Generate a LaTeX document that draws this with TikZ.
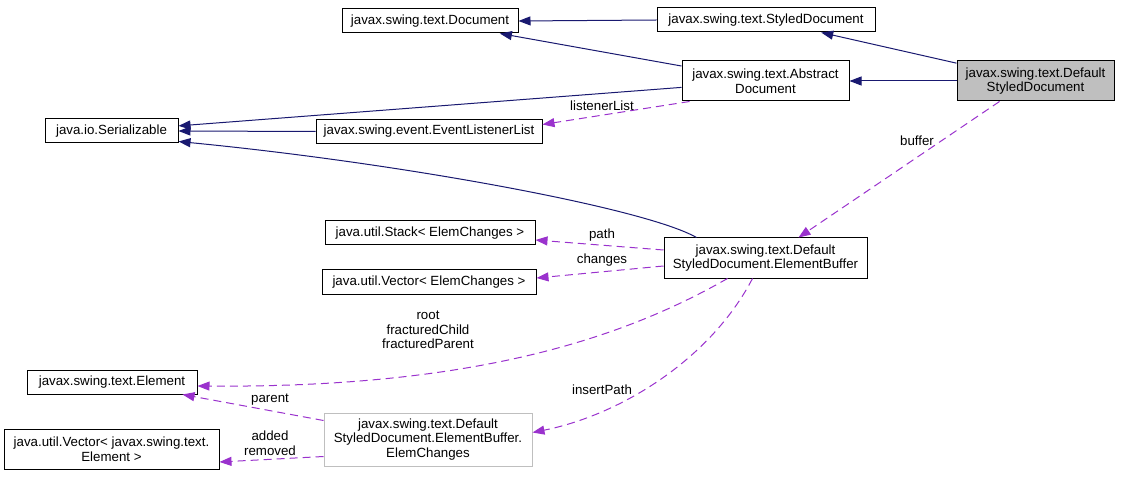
\documentclass[tikz,border=0pt]{standalone}
\usepackage{fontspec}
\setmainfont{Liberation Sans}
\usetikzlibrary{arrows.meta,calc}
\definecolor{navy}{HTML}{191970}
\definecolor{purp}{HTML}{9A32CD}
\definecolor{greyfill}{HTML}{BFBFBF}
\definecolor{greyline}{HTML}{BFBFBF}
\begin{document}
\begin{tikzpicture}[x=1pt,y=-1pt,font=\fontsize{13.3}{14.5}\selectfont,
  cls/.style={draw=black,line width=1pt,fill=white,align=center,inner sep=0pt},
  inh/.style={navy,line width=1pt,-{Triangle[length=12pt,width=9pt]}},
  use/.style={purp,line width=1pt,dash pattern=on 8pt off 5pt,-{Triangle[length=12pt,width=9pt]}},
  lbl/.style={align=center,inner sep=0pt}]
\useasboundingbox (0,0) rectangle (1121,486);
% classes
\node[cls,minimum width=176pt,minimum height=24pt] (doc) at (430,21) {javax.swing.text.Document};
\node[cls,minimum width=218pt,minimum height=24pt] (sdoc) at (766,20) {javax.swing.text.StyledDocument};
\node[cls,minimum width=167pt,minimum height=40pt] (adoc) at (765.5,81) {javax.swing.text.Abstract\\Document};
\node[cls,fill=greyfill,minimum width=157pt,minimum height=40pt] (dsd) at (1035.5,81) {javax.swing.text.Default\\StyledDocument};
\node[cls,minimum width=133pt,minimum height=24pt] (ser) at (111.5,131) {java.io.Serializable};
\node[cls,minimum width=226pt,minimum height=24pt] (ell) at (429,131.5) {javax.swing.event.EventListenerList};
\node[cls,minimum width=210pt,minimum height=24pt] (stack) at (430,233) {java.util.Stack< ElemChanges >};
\node[cls,minimum width=214pt,minimum height=25pt] (vec) at (429,282) {java.util.Vector< ElemChanges >};
\node[cls,minimum width=203pt,minimum height=40pt] (eb) at (765.5,258) {javax.swing.text.Default\\StyledDocument.ElementBuffer};
\node[cls,minimum width=170pt,minimum height=24pt] (elem) at (112,382) {javax.swing.text.Element};
\node[cls,draw=greyline,minimum width=208pt,minimum height=53pt] (ec) at (428,439.5) {javax.swing.text.Default\\StyledDocument.ElementBuffer.\\ElemChanges};
\node[cls,minimum width=215pt,minimum height=40pt] (vecel) at (111.5,449) {java.util.Vector< javax.swing.text.\\Element >};
% inheritance
\draw[inh] (sdoc.west) -- (doc.east);
\draw[inh] (adoc) -- (doc);
\draw[inh] (dsd) -- (sdoc);
\draw[inh] (dsd.west) -- (adoc.east);
\draw[inh] (adoc) -- (ser);
\draw[inh] (ell.west) -- (ser.east);
\draw[inh] ($(eb.north west)+(33,0)$) .. controls (645,208) and (400,163) .. ($(ser.south east)+(0,-2)$);
% usage
\draw[use] ($(adoc.south west)+(8,0)$) -- ($(ell.east)+(0,-7)$);
\draw[use] ($(dsd.south west)+(43,0)$) -- ($(eb.north)+(33,0)$);
\draw[use] ($(eb.west)+(0,-8)$) -- ($(stack.east)+(0,7)$);
\draw[use] ($(eb.west)+(0,8)$) -- ($(vec.east)+(0,-4)$);
\draw[use] ($(eb.south)+(-38,0)$) .. controls (620,340) and (470,388) .. ($(elem.east)+(0,4)$);
\draw[use] ($(eb.south)+(-13,0)$) .. controls (710,360) and (620,415) .. ($(ec.east)+(0,-7)$);
\draw[use] ($(ec.north west)+(0,8)$) -- ($(elem.south east)+(-15,0)$);
\draw[use] ($(ec.west)+(0,17)$) -- ($(vecel.east)+(0,13)$);
% labels
\node[lbl] (l1) at (602,106) {listenerList};
\node[lbl] (l2) at (917,141) {buffer};
\node[lbl] (l3) at (602,235) {path};
\node[lbl] (l4) at (602,260) {changes};
\node[lbl] (l5) at (428,330) {root\\fracturedChild\\fracturedParent};
\node[lbl] (l6) at (270,400) {parent};
\node[lbl] (l7) at (270,443) {added\\removed};
\node[lbl] (l8) at (602,390) {insertPath};
\end{tikzpicture}
\end{document}
